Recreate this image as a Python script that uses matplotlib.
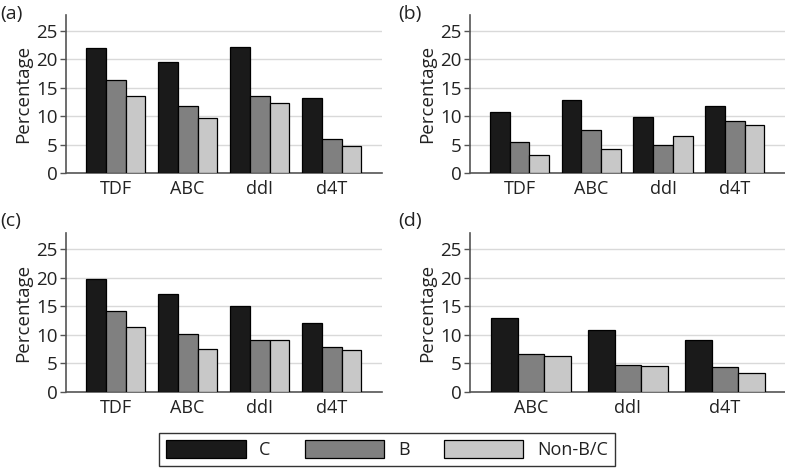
import matplotlib
matplotlib.use('Agg')
import matplotlib.pyplot as plt
from matplotlib.patches import Patch
import numpy as np

plt.rcParams['font.family'] = ['Open Sans', 'DejaVu Sans']

drugs4 = ['TDF', 'ABC', 'ddI', 'd4T']
drugs3 = ['ABC', 'ddI', 'd4T']
series = ['C', 'B', 'Non-B/C']
colours = ['#1a1a1a', '#808080', '#c8c8c8']

# panel values, one list per subtype
a_C = [22.0, 19.6, 22.2, 13.2]
a_B = [16.4, 11.8, 13.6, 5.9]
a_N = [13.6, 9.6, 12.4, 4.8]

b_C = [10.8, 12.8, 9.8, 11.8]
b_B = [5.5, 7.6, 4.9, 9.2]
b_N = [3.1, 4.2, 6.5, 8.4]

c_C = [19.8, 17.2, 15.0, 12.1]
c_B = [14.2, 10.2, 9.1, 7.9]
c_N = [11.3, 7.5, 9.1, 7.3]

d_C = [13.0, 10.9, 9.1]
d_B = [6.6, 4.8, 4.4]
d_N = [6.3, 4.5, 3.3]

panels = [
    ('(a)', drugs4, [a_C, a_B, a_N]),
    ('(b)', drugs4, [b_C, b_B, b_N]),
    ('(c)', drugs4, [c_C, c_B, c_N]),
    ('(d)', drugs3, [d_C, d_B, d_N]),
]

W, H = 785, 469
fig = plt.figure(figsize=(W / 100, H / 100), dpi=100)

# axes boxes in pixels: left, top, right, bottom
boxes = [(66, 15, 382, 173), (470, 15, 785, 173),
         (66, 233, 382, 392), (470, 233, 785, 392)]
tags = [(0, 14), (398, 14), (0, 221), (398, 221)]

bw = 0.275
for (tag, cats, vals), (l, t, r, b), (tx, ty) in zip(panels, boxes, tags):
    ax = fig.add_axes([l / W, 1 - b / H, (r - l) / W, (b - t) / H])
    x = np.arange(len(cats))
    for k, v in enumerate(vals):
        ax.bar(x + (k - 1) * bw, v, bw, color=colours[k],
               edgecolor='black', linewidth=0.9, zorder=3)
    if len(cats) == 4:
        ax.set_xlim(-0.69, 3.70)
    else:
        ax.set_xlim(-0.63, 2.62)
    ax.set_ylim(0, 27.8)
    ax.set_yticks([0, 5, 10, 15, 20, 25])
    ax.set_xticks(x)
    ax.set_xticklabels(cats)
    ax.yaxis.grid(True, color='#d9d9d9', linewidth=1, zorder=0)
    ax.set_axisbelow(True)
    for s in ['top', 'right']:
        ax.spines[s].set_visible(False)
    for s in ['left', 'bottom']:
        ax.spines[s].set_color('#555555')
        ax.spines[s].set_linewidth(1.2)
    ax.tick_params(axis='x', length=0, pad=5, labelsize=13, colors='#222222')
    ax.tick_params(axis='y', length=4, width=1, color='#555555',
                   labelsize=13.5, labelcolor='#222222', pad=2)
    ax.set_ylabel('Percentage', fontsize=13.5, color='#222222', labelpad=3)
    fig.text(tx / W, 1 - ty / H, tag, fontsize=14, color='#222222',
             ha='left', va='center')

handles = [Patch(facecolor=c, edgecolor='black', linewidth=0.9) for c in colours]
leg = fig.legend(handles, series, loc='center', ncol=3,
                 bbox_to_anchor=(387 / W, 1 - 449.5 / H),
                 fontsize=13, handlelength=4.4, handleheight=1.15,
                 handletextpad=0.75, columnspacing=1.9, borderpad=0.4,
                 fancybox=False, frameon=True)
leg.get_frame().set_edgecolor('black')
leg.get_frame().set_linewidth(1)
for t in leg.get_texts():
    t.set_color('#222222')

fig.savefig('out.png', dpi=100)
